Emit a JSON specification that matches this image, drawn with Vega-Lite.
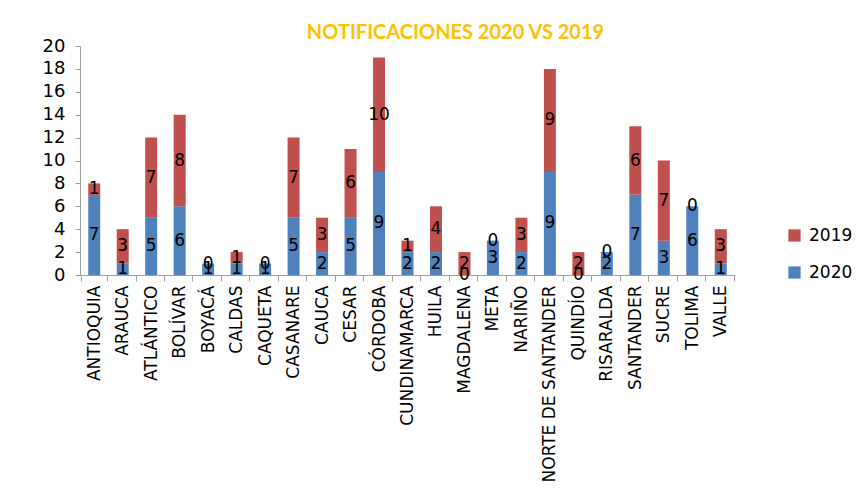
{
  "$schema": "https://vega.github.io/schema/vega-lite/v6.json",
  "autosize": {"type": "none"},
  "width": 655,
  "height": 229,
  "padding": {"left": 80, "top": 46, "right": 127, "bottom": 219},
  "background": "white",
  "config": {"view": {"stroke": null}, "font": "DejaVu Sans"},
  "title": {"text": "NOTIFICACIONES 2020 VS 2019", "color": "#FFC000", "fontSize": 20, "fontWeight": "bold", "font": "Lato", "anchor": "middle", "dx": 48, "offset": 0, "dy": 6},
  "data": {"values": [
    {"dep": "ANTIOQUIA", "year": "2020", "v": 7}, {"dep": "ANTIOQUIA", "year": "2019", "v": 1},
    {"dep": "ARAUCA", "year": "2020", "v": 1}, {"dep": "ARAUCA", "year": "2019", "v": 3},
    {"dep": "ATLÁNTICO", "year": "2020", "v": 5}, {"dep": "ATLÁNTICO", "year": "2019", "v": 7},
    {"dep": "BOLÍVAR", "year": "2020", "v": 6}, {"dep": "BOLÍVAR", "year": "2019", "v": 8},
    {"dep": "BOYACÁ", "year": "2020", "v": 1}, {"dep": "BOYACÁ", "year": "2019", "v": 0},
    {"dep": "CALDAS", "year": "2020", "v": 1}, {"dep": "CALDAS", "year": "2019", "v": 1},
    {"dep": "CAQUETA", "year": "2020", "v": 1}, {"dep": "CAQUETA", "year": "2019", "v": 0},
    {"dep": "CASANARE", "year": "2020", "v": 5}, {"dep": "CASANARE", "year": "2019", "v": 7},
    {"dep": "CAUCA", "year": "2020", "v": 2}, {"dep": "CAUCA", "year": "2019", "v": 3},
    {"dep": "CESAR", "year": "2020", "v": 5}, {"dep": "CESAR", "year": "2019", "v": 6},
    {"dep": "CÓRDOBA", "year": "2020", "v": 9}, {"dep": "CÓRDOBA", "year": "2019", "v": 10},
    {"dep": "CUNDINAMARCA", "year": "2020", "v": 2}, {"dep": "CUNDINAMARCA", "year": "2019", "v": 1},
    {"dep": "HUILA", "year": "2020", "v": 2}, {"dep": "HUILA", "year": "2019", "v": 4},
    {"dep": "MAGDALENA", "year": "2020", "v": 0}, {"dep": "MAGDALENA", "year": "2019", "v": 2},
    {"dep": "META", "year": "2020", "v": 3}, {"dep": "META", "year": "2019", "v": 0},
    {"dep": "NARIÑO", "year": "2020", "v": 2}, {"dep": "NARIÑO", "year": "2019", "v": 3},
    {"dep": "NORTE DE SANTANDER", "year": "2020", "v": 9}, {"dep": "NORTE DE SANTANDER", "year": "2019", "v": 9},
    {"dep": "QUINDÍO", "year": "2020", "v": 0}, {"dep": "QUINDÍO", "year": "2019", "v": 2},
    {"dep": "RISARALDA", "year": "2020", "v": 2}, {"dep": "RISARALDA", "year": "2019", "v": 0},
    {"dep": "SANTANDER", "year": "2020", "v": 7}, {"dep": "SANTANDER", "year": "2019", "v": 6},
    {"dep": "SUCRE", "year": "2020", "v": 3}, {"dep": "SUCRE", "year": "2019", "v": 7},
    {"dep": "TOLIMA", "year": "2020", "v": 6}, {"dep": "TOLIMA", "year": "2019", "v": 0},
    {"dep": "VALLE", "year": "2020", "v": 1}, {"dep": "VALLE", "year": "2019", "v": 3}
  ]},
  "transform": [
    {"calculate": "datum.year === '2020' ? 0 : 1", "as": "ord"},
    {"stack": "v", "groupby": ["dep"], "sort": [{"field": "ord", "order": "ascending"}], "as": ["y0", "y1"]},
    {"calculate": "(datum.y0 + datum.y1) / 2", "as": "ymid"}
  ],
  "encoding": {
    "x": {"field": "dep", "type": "nominal", "sort": null,
      "axis": {"title": null, "labelAngle": -90, "labelFontSize": 17, "labelColor": "black", "labelFont": "DejaVu Sans", "labelOverlap": false, "labelLimit": 400,
        "domainColor": "#A0A0A0", "tickColor": "#A0A0A0", "tickBand": "extent", "tickSize": 6, "labelPadding": 4}}
  },
  "resolve": {"axis": {"y": "independent"}},
  "layer": [
    {
      "mark": {"type": "bar", "size": 12},
      "encoding": {
        "y": {"field": "y0", "type": "quantitative", "scale": {"domain": [0, 20]},
          "axis": {"title": null, "values": [0,2,4,6,8,10,12,14,16,18,20], "grid": false, "labelFontSize": 18, "labelColor": "black", "labelOverlap": false, "labelFont": "DejaVu Sans",
            "domainColor": "#A0A0A0", "tickColor": "#A0A0A0", "tickSize": 5, "labelPadding": 10}},
        "y2": {"field": "y1"},
        "color": {"field": "year", "type": "nominal",
          "scale": {"domain": ["2019", "2020"], "range": ["#C0504D", "#4F81BD"]},
          "legend": {"title": null, "orient": "none", "legendX": 706, "legendY": 181, "symbolType": "square", "symbolSize": 150, "labelFontSize": 17, "labelFont": "DejaVu Sans", "labelColor": "black", "rowPadding": 19, "labelOffset": 6}}
      }
    },
    {
      "mark": {"type": "text", "fontSize": 17, "color": "black", "font": "DejaVu Sans"},
      "encoding": {
        "y": {"field": "ymid", "type": "quantitative", "axis": null},
        "text": {"field": "v", "type": "quantitative"}
      }
    }
  ]
}
